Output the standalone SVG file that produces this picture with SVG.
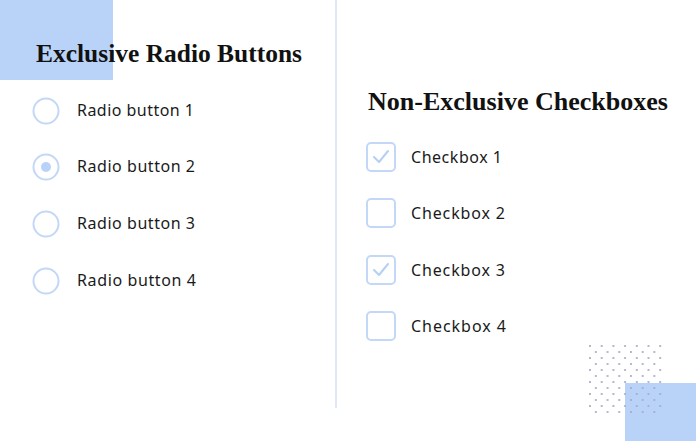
<svg xmlns="http://www.w3.org/2000/svg" width="700" height="447" viewBox="0 0 700 447">
<defs>
<style>
.title{font-family:"Liberation Serif",serif;font-weight:bold;font-size:25px;fill:#111;}
.lbl{font-family:"Noto Sans","Liberation Sans",sans-serif;font-size:16px;fill:#1a1a1a;}
.radio{fill:#fff;stroke:#c3d8f6;stroke-width:2;}
.box{fill:#fff;stroke:#c3d8f6;stroke-width:2;}
.chk{fill:none;stroke:#b5cff5;stroke-width:2;stroke-linecap:round;stroke-linejoin:round;}
.deco{fill:#b9d3f8;}
.dot{fill:#aaa7c8;}
</style>
<pattern id="dots" x="590" y="346" width="11.7" height="12" patternUnits="userSpaceOnUse">
<circle cx="0" cy="0" r="1.1" class="dot"/>
<circle cx="11.7" cy="0" r="1.1" class="dot"/>
<circle cx="0" cy="12" r="1.1" class="dot"/>
<circle cx="11.7" cy="12" r="1.1" class="dot"/>
<circle cx="5.85" cy="6" r="1.1" class="dot"/>
</pattern>
</defs>
<rect width="700" height="447" fill="#fff"/>
<rect class="deco" x="0" y="0" width="113" height="80"/>
<rect class="deco" x="625" y="383" width="71" height="58"/>
<rect x="588.5" y="344.5" width="74" height="69" fill="url(#dots)"/>
<line x1="336" y1="0" x2="336" y2="408" stroke="#d3e0f4" stroke-width="1.5"/>
<text class="title" x="36" y="62" textLength="266" lengthAdjust="spacingAndGlyphs">Exclusive Radio Buttons</text>
<text class="title" x="368" y="110" textLength="300" lengthAdjust="spacingAndGlyphs">Non-Exclusive Checkboxes</text>
<g id="radio1"><circle class="radio" cx="46" cy="111" r="12.5"/><text class="lbl" x="77" y="116" textLength="117">Radio button 1</text></g>
<g id="radio2"><circle class="radio" cx="46" cy="167" r="12.5"/><circle cx="46" cy="167" r="5" class="deco"/><text class="lbl" x="77" y="172" textLength="118">Radio button 2</text></g>
<g id="radio3"><circle class="radio" cx="46" cy="224" r="12.5"/><text class="lbl" x="77" y="229" textLength="118">Radio button 3</text></g>
<g id="radio4"><circle class="radio" cx="46" cy="281" r="12.5"/><text class="lbl" x="77" y="286" textLength="119">Radio button 4</text></g>
<g id="check1"><rect class="box" x="367" y="143" width="28" height="28" rx="4"/><path class="chk" d="M374 157 L379 162 L388 151"/><text class="lbl" x="411" y="163" textLength="91">Checkbox 1</text></g>
<g id="check2"><rect class="box" x="367" y="199" width="28" height="28" rx="4"/><text class="lbl" x="411" y="219" textLength="94">Checkbox 2</text></g>
<g id="check3"><rect class="box" x="367" y="256" width="28" height="28" rx="4"/><path class="chk" d="M374 270 L379 275 L388 264"/><text class="lbl" x="411" y="276" textLength="94">Checkbox 3</text></g>
<g id="check4"><rect class="box" x="367" y="312" width="28" height="28" rx="4"/><text class="lbl" x="411" y="332" textLength="95">Checkbox 4</text></g>
<g id="connectors"></g>
</svg>
